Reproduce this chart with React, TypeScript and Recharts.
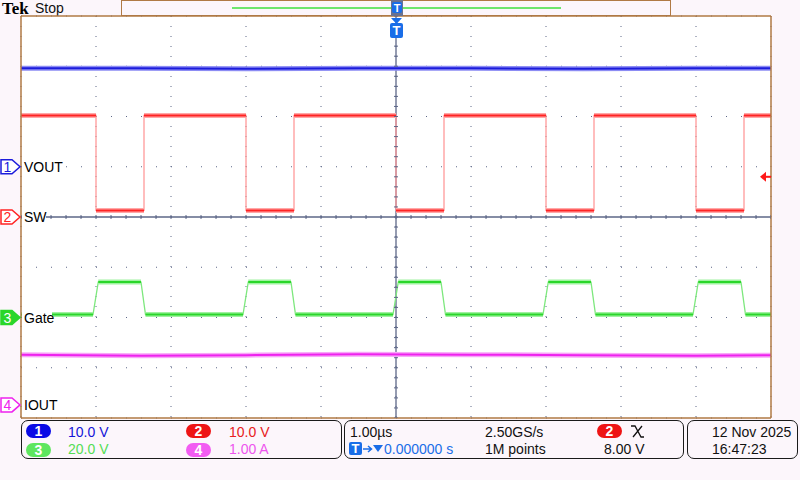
import {
  ComposedChart,
  Line,
  Scatter,
  XAxis,
  YAxis,
  CartesianGrid,
  ReferenceLine,
  ReferenceDot,
} from "recharts";

const FONT = '"Liberation Sans", Arial, sans-serif';
const GRID = "#5d6787";
const FRAME = "#b07a45";

// horizontal axis: time in µs relative to the trigger (1.00 µs/div)
const X_DOMAIN = [-5, 5];
// vertical axis: screen divisions
const Y_DOMAIN = [-4, 4];
const majorX = [-4, -3, -2, -1, 0, 1, 2, 3, 4];
const majorY = [-3, -2, -1, 0, 1, 2, 3];
const minorX = Array.from({ length: 51 }, (_, i) => +(-5 + i * 0.2).toFixed(1));
const minorY = Array.from({ length: 41 }, (_, i) => +(-4 + i * 0.2).toFixed(1));

// channel setup: units per div and ground position (divs from centre)
const CH = {
  VOUT: { num: "1", scale: 10, offset: 1, color: "#1c1cdc", halo: "#8c8cf4", edge: "#6a6af0" },
  SW: { num: "2", scale: 10, offset: 0, color: "#ff2323", halo: "#ffa8a8", edge: "#ff9a9a" },
  Gate: { num: "3", scale: 20, offset: -2, color: "#2ad62a", halo: "#a0f2a0", edge: "#7ee87e" },
  IOUT: { num: "4", scale: 1, offset: -3.74, color: "#ee22ee", halo: "#f8a6f8", edge: "#f080f0" },
};

// CH1 VOUT (V)
const voutTime = [-5, -3.5, -2, -0.5, 1, 2.5, 4, 5];
const voutVals = [19.6, 19.6, 19.5, 19.6, 19.6, 19.5, 19.6, 19.6];

// CH2 SW node (V)
const swTime = [-5, -4, -4, -3.36, -3.36, -2, -2, -1.36, -1.36, 0, 0, 0.64, 0.64, 2, 2, 2.64, 2.64, 4, 4, 4.64, 4.64, 5];
const swVals = [20.2, 20.2, 1.3, 1.3, 20.2, 20.2, 1.3, 1.3, 20.2, 20.2, 1.3, 1.3, 20.2, 20.2, 1.3, 1.3, 20.2, 20.2, 1.3, 1.3, 20.2, 20.2];

// CH3 Gate drive (V)
const gateTime = [-5, -4.04, -3.97, -3.4, -3.34, -2.04, -1.97, -1.4, -1.34, -0.04, 0.03, 0.6, 0.66, 1.96, 2.03, 2.6, 2.66, 3.96, 4.03, 4.6, 4.66, 5];
const gateVals = [1.2, 1.2, 14.1, 14.1, 1.2, 1.2, 14.1, 14.1, 1.2, 1.2, 14.1, 14.1, 1.2, 1.2, 14.1, 14.1, 1.2, 1.2, 14.1, 14.1, 1.2, 1.2];

// CH4 IOUT (A)
const ioutTime = [-5, -3.4, -2, -0.5, 1, 2.5, 4, 5];
const ioutVals = [1.0, 0.98, 0.99, 1.01, 1.0, 0.99, 0.98, 0.99];

// trigger: CH2 level
const TRIG_LEVEL = 8.0;

type Ch = (typeof CH)[keyof typeof CH];
type Pt = { t: number; y: number | null };

const toPts = (ts: number[], vs: number[], ch: Ch): Pt[] =>
  ts.map((t, i) => ({ t, y: vs[i] / ch.scale + ch.offset }));

// flat parts only (break the path at the switching edges) for the noisy band look
const levelsOnly = (pts: Pt[]): Pt[] => {
  const out: Pt[] = [];
  pts.forEach((p, i) => {
    out.push(p);
    const n = pts[i + 1];
    if (n && Math.abs((n.y as number) - (p.y as number)) > 0.3) out.push({ t: p.t, y: null });
  });
  return out;
};

const traces = [
  { key: "vout", ch: CH.VOUT, data: toPts(voutTime, voutVals, CH.VOUT) },
  { key: "sw", ch: CH.SW, data: toPts(swTime, swVals, CH.SW) },
  { key: "gate", ch: CH.Gate, data: toPts(gateTime, gateVals, CH.Gate) },
  { key: "iout", ch: CH.IOUT, data: toPts(ioutTime, ioutVals, CH.IOUT) },
];

const centerTicksX = minorX.map((t) => ({ t, y: 0 }));
const centerTicksY = minorY.map((y) => ({ t: 0, y }));

function channelMarker(ch: Ch, label: string, w: number, solid: boolean) {
  return (props: any) => {
    const { cx, cy } = props;
    const x0 = cx - 20;
    const d = `M${x0},${cy - 7} H${x0 + 11} L${x0 + 19},${cy} L${x0 + 11},${cy + 7} H${x0} Z`;
    return (
      <g>
        <rect x={cx + 1} y={cy - 8} width={w} height={16} fill="#ffffff" />
        <text x={cx + 3} y={cy + 5} fontSize={14} fontFamily={FONT} fill="#000">
          {label}
        </text>
        <path d={d} fill={solid ? ch.color : "#ffffff"} stroke={ch.color} strokeWidth={1.5} />
        <text
          x={x0 + 6.5}
          y={cy + 5}
          fontSize={14}
          fontFamily={FONT}
          textAnchor="middle"
          fill={solid ? "#ffffff" : ch.color}
        >
          {ch.num}
        </text>
      </g>
    );
  };
}

const trigArrow = (props: any) => {
  const { cx, cy } = props;
  return (
    <g>
      <path d={`M${cx - 11},${cy} L${cx - 5},${cy - 5} L${cx - 5},${cy + 5} Z`} fill="#ff1a1a" />
      <line x1={cx - 5} y1={cy} x2={cx} y2={cy} stroke="#ff1a1a" strokeWidth={2} />
    </g>
  );
};

const trigPin = (props: any) => {
  const { cx } = props;
  return (
    <g>
      <rect x={cx - 5} y={0} width={12} height={16} fill="#6a7290" />
      <rect x={cx - 4} y={2} width={10} height={11} rx={2} fill="#1a6ee8" />
      <text x={cx + 1} y={12} fontSize={11} fontWeight="bold" fontFamily={FONT} textAnchor="middle" fill="#fff">
        T
      </text>
      <path d={`M${cx - 5},${18} L${cx + 6},${18} L${cx + 0.5},${24} Z`} fill="#1a6ee8" />
      <rect x={cx - 6} y={23} width={13} height={15} rx={2} fill="#1a6ee8" />
      <text x={cx + 0.5} y={35} fontSize={13} fontWeight="bold" fontFamily={FONT} textAnchor="middle" fill="#fff">
        T
      </text>
    </g>
  );
};

const hTick = (props: any) => (
  <line x1={props.cx - 2} y1={props.cy} x2={props.cx + 2} y2={props.cy} stroke={GRID} strokeWidth={1} />
);
const vTick = (props: any) => (
  <line x1={props.cx} y1={props.cy - 2} x2={props.cx} y2={props.cy + 2} stroke={GRID} strokeWidth={1} />
);

const txt = (left: number, top: number, color = "#111", extra: any = {}) => ({
  position: "absolute" as const,
  left,
  top,
  color,
  fontFamily: FONT,
  fontSize: 14,
  lineHeight: "16px",
  whiteSpace: "nowrap" as const,
  ...extra,
});

const pill = (left: number, top: number, bg: string) => ({
  position: "absolute" as const,
  left,
  top,
  width: 25,
  height: 14,
  borderRadius: 7,
  background: bg,
  color: "#fff",
  fontFamily: FONT,
  fontWeight: "bold" as const,
  fontSize: 14,
  lineHeight: "14px",
  textAlign: "center" as const,
});

const box = (left: number, width: number) => ({
  position: "absolute" as const,
  left,
  top: 420,
  width,
  height: 39,
  border: "1px solid #1a1a1a",
  borderRadius: 7,
  boxSizing: "border-box" as const,
});

const lineCommon = {
  dataKey: "y",
  type: "linear" as const,
  dot: false,
  activeDot: false,
  connectNulls: false,
  isAnimationActive: false,
};

export default function App() {
  return (
    <div style={{ position: "fixed", left: 0, top: 0, width: 800, height: 480, background: "#fcf6fb", overflow: "hidden" }}>
      <div style={txt(2, 0, "#000", { fontFamily: '"Liberation Serif", serif', fontWeight: "bold", fontSize: 17, lineHeight: "17px" })}>
        Tek
      </div>
      <div style={txt(35, 0, "#111")}>Stop</div>
      {/* record view bar */}
      <div
        style={{
          position: "absolute",
          left: 121,
          top: 0,
          width: 550,
          height: 16,
          border: `1.5px solid ${FRAME}`,
          boxSizing: "border-box",
        }}
      />
      <div style={{ position: "absolute", left: 232, top: 7, width: 329, height: 1.5, background: "#6ee66e" }} />

      <div style={{ position: "absolute", left: 0, top: 0 }}>
        <ComposedChart width={800} height={480} margin={{ top: 16, right: 29, bottom: 62, left: 21 }}>
          <CartesianGrid horizontal vertical={false} strokeDasharray="1 14" stroke={GRID} fill="#ffffff" />
          <CartesianGrid horizontal={false} vertical strokeDasharray="1 9" stroke={GRID} />
          <XAxis dataKey="t" type="number" domain={X_DOMAIN} ticks={majorX} hide allowDataOverflow />
          <YAxis dataKey="y" type="number" domain={Y_DOMAIN} ticks={majorY} hide allowDataOverflow />
          <XAxis
            xAxisId="top"
            orientation="top"
            mirror
            type="number"
            domain={X_DOMAIN}
            ticks={minorX}
            interval={0}
            tick={false}
            tickSize={3}
            axisLine={{ stroke: FRAME, strokeWidth: 1.5 }}
            tickLine={{ stroke: GRID }}
          />
          <XAxis
            xAxisId="bottom"
            orientation="bottom"
            mirror
            type="number"
            domain={X_DOMAIN}
            ticks={minorX}
            interval={0}
            tick={false}
            tickSize={3}
            axisLine={{ stroke: FRAME, strokeWidth: 1.5 }}
            tickLine={{ stroke: GRID }}
          />
          <YAxis
            yAxisId="left"
            orientation="left"
            mirror
            type="number"
            domain={Y_DOMAIN}
            ticks={minorY}
            interval={0}
            tick={false}
            tickSize={3}
            axisLine={{ stroke: FRAME, strokeWidth: 1.5 }}
            tickLine={{ stroke: GRID }}
          />
          <YAxis
            yAxisId="right"
            orientation="right"
            mirror
            type="number"
            domain={Y_DOMAIN}
            ticks={minorY}
            interval={0}
            tick={false}
            tickSize={3}
            axisLine={{ stroke: FRAME, strokeWidth: 1.5 }}
            tickLine={{ stroke: GRID }}
          />

          <ReferenceLine x={0} stroke={GRID} strokeWidth={1.3} />
          <ReferenceLine y={0} stroke={GRID} strokeWidth={1.3} />
          <Scatter data={centerTicksX} shape={vTick} isAnimationActive={false} />
          <Scatter data={centerTicksY} shape={hTick} isAnimationActive={false} />

          {/* thin full trace (edges included) */}
          {traces.map((tr) => (
            <Line key={tr.key + "-edge"} data={tr.data} stroke={tr.ch.edge} strokeWidth={1.3} {...lineCommon} />
          ))}
          {/* noise band on the flat parts */}
          {traces.map((tr) => (
            <Line key={tr.key + "-halo"} data={levelsOnly(tr.data)} stroke={tr.ch.halo} strokeWidth={5} {...lineCommon} />
          ))}
          {traces.map((tr) => (
            <Line key={tr.key + "-core"} data={levelsOnly(tr.data)} stroke={tr.ch.color} strokeWidth={2} {...lineCommon} />
          ))}

          <ReferenceDot x={-5} y={CH.VOUT.offset} shape={channelMarker(CH.VOUT, "VOUT", 35, false)} ifOverflow="visible" />
          <ReferenceDot x={-5} y={CH.SW.offset} shape={channelMarker(CH.SW, "SW", 24, false)} ifOverflow="visible" />
          <ReferenceDot x={-5} y={CH.Gate.offset} shape={channelMarker(CH.Gate, "Gate", 30, true)} ifOverflow="visible" />
          <ReferenceDot x={-5} y={CH.IOUT.offset} shape={channelMarker(CH.IOUT, "IOUT", 33, false)} ifOverflow="visible" />
          <ReferenceDot x={5} y={TRIG_LEVEL / CH.SW.scale + CH.SW.offset} shape={trigArrow} ifOverflow="visible" />
          <ReferenceDot x={0} y={4} shape={trigPin} ifOverflow="visible" />
        </ComposedChart>
      </div>

      {/* readout panels */}
      <div style={box(21, 321)} />
      <div style={box(344, 340)} />
      <div style={box(687, 111)} />

      <div style={pill(26, 424, "#0a0ae6")}>1</div>
      <div style={txt(68, 424, "#1414d8")}>10.0 V</div>
      <div style={pill(186, 424, "#ee1414")}>2</div>
      <div style={txt(229, 424, "#e82020")}>10.0 V</div>
      <div style={pill(26, 443, "#5ee65e")}>3</div>
      <div style={txt(68, 441, "#55dd55")}>20.0 V</div>
      <div style={pill(186, 443, "#f25cf2")}>4</div>
      <div style={txt(229, 441, "#ee55ee")}>1.00 A</div>

      <div style={txt(350, 424)}>1.00µs</div>
      <div style={txt(485, 424)}>2.50GS/s</div>
      <div style={pill(597, 424, "#ee1414")}>2</div>
      <svg style={{ position: "absolute", left: 630, top: 425 }} width={15} height={13}>
        <path d="M1,1 H5 L11,12 H14 M3,12 L12,1" stroke="#111" strokeWidth={1.3} fill="none" />
      </svg>
      <div
        style={{
          position: "absolute",
          left: 349,
          top: 442,
          width: 13,
          height: 13,
          background: "#1a6ee8",
          borderRadius: 2,
          color: "#fff",
          fontFamily: FONT,
          fontWeight: "bold",
          fontSize: 13,
          lineHeight: "13px",
          textAlign: "center",
        }}
      >
        T
      </div>
      <svg style={{ position: "absolute", left: 362, top: 443 }} width={22} height={12}>
        <path d="M1,6 H9 M6,3 L9.5,6 L6,9" stroke="#1a6ee8" strokeWidth={1.5} fill="none" />
        <path d="M11,2 H21 L16,9 Z" fill="#1a6ee8" />
      </svg>
      <div style={txt(384, 441, "#1a6ee8")}>0.000000 s</div>
      <div style={txt(485, 441)}>1M points</div>
      <div style={txt(604, 441)}>8.00 V</div>

      <div style={txt(712, 424)}>12 Nov 2025</div>
      <div style={txt(712, 441)}>16:47:23</div>
    </div>
  );
}
